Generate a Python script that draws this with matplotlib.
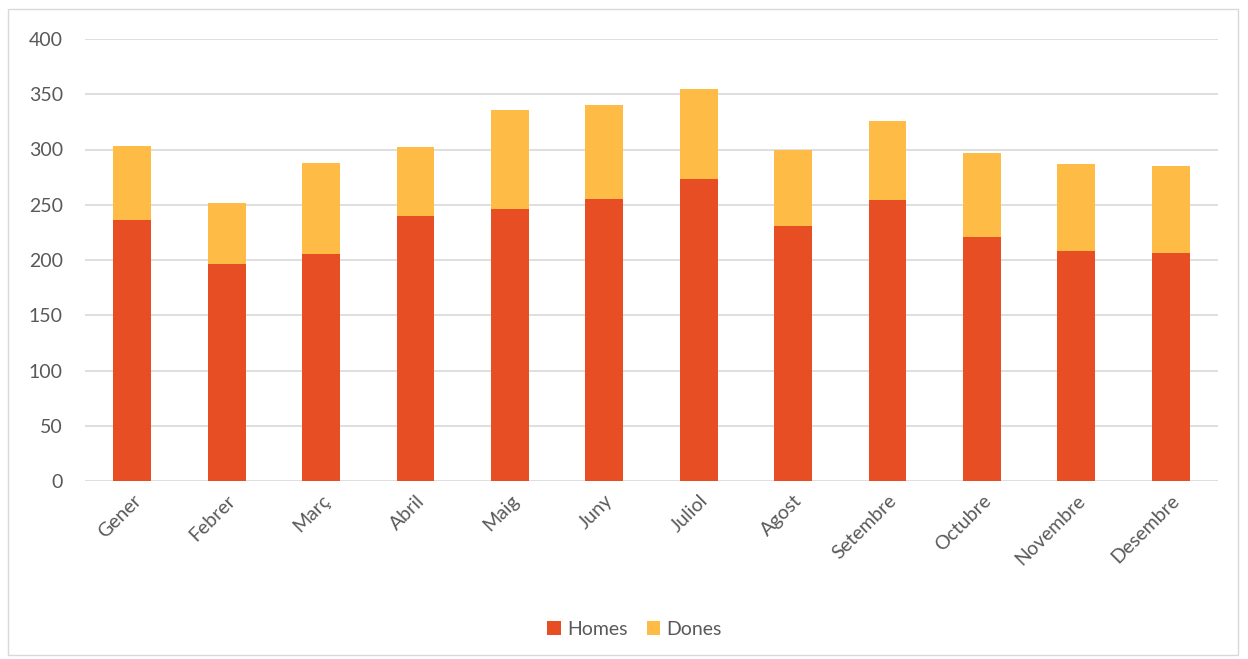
import matplotlib.pyplot as plt
from matplotlib.patches import Rectangle

mesos = ['Gener', 'Febrer', 'Març', 'Abril', 'Maig', 'Juny', 'Juliol',
         'Agost', 'Setembre', 'Octubre', 'Novembre', 'Desembre']
homes = [236, 196, 205, 240, 246, 255, 273, 231, 254, 221, 208, 206]
dones = [67, 56, 83, 62, 90, 85, 82, 69, 72, 76, 79, 79]

c_homes = '#E84E23'
c_dones = '#FEBC47'
txt = '#595959'

plt.rcParams['font.family'] = ['Lato', 'DejaVu Sans']

fig = plt.figure(figsize=(12.48, 6.59), dpi=100)
ax = fig.add_axes([85 / 1248, 1 - 481 / 659, (1218 - 85) / 1248, (481 - 39) / 659])

x = range(len(mesos))
ax.bar(x, homes, width=0.4, color=c_homes, label='Homes', zorder=3)
ax.bar(x, dones, width=0.4, bottom=homes, color=c_dones, label='Dones', zorder=3)

ax.set_xlim(-0.5, len(mesos) - 0.5)
ax.set_ylim(0, 400)
ax.set_yticks(range(0, 401, 50))
ax.yaxis.grid(True, color='#D9D9D9', linewidth=1.2, zorder=0)
for s in ax.spines.values():
    s.set_visible(False)
ax.tick_params(axis='both', length=0, colors=txt, labelsize=14)
ax.tick_params(axis='y', pad=16)
ax.set_xticks(list(x))
ax.set_xticklabels(mesos, rotation=45, ha='right', rotation_mode='anchor')
ax.tick_params(axis='x', pad=8)

ax.legend(loc='center', bbox_to_anchor=(0.485, -0.335), ncol=2, frameon=False,
          fontsize=14, handlelength=0.7, handleheight=0.7, columnspacing=1.0,
          handletextpad=0.3, labelcolor=txt)

fig.patches.append(Rectangle((8 / 1248, 4 / 659), 1230 / 1248, 646 / 659,
                             transform=fig.transFigure, fill=False,
                             edgecolor='#D9D9D9', linewidth=1))

fig.savefig('out.png', dpi=100)
